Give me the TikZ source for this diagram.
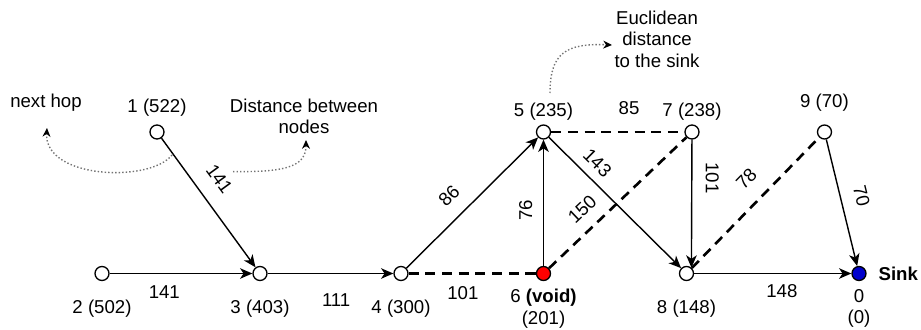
\documentclass[tikz,border=0pt]{standalone}
\usepackage{fontspec}
\setmainfont{Liberation Sans}
\usepackage{xcolor}
\usepackage{tikz}
\usetikzlibrary{arrows.meta}
\usetikzlibrary{positioning}
\definecolor{vazio}{HTML}{FF0000}
\definecolor{destino}{HTML}{0000CC}
\tikzset{
  sensor/.style={circle, draw, fill=white, line width=0.75pt, minimum size=0.28cm, inner sep=0pt},
  rotulo/.style={inner sep=0pt, align=center, font=\fontsize{10.6}{12.2}\selectfont},
  peso/.style={inner sep=0pt, sloped, font=\fontsize{10.6}{12.2}\selectfont},
  seta/.style={-{Stealth[length=7pt, width=6pt, inset=2pt]}, line width=0.8pt},
  tracejado/.style={line width=1.5pt, dash pattern=on 5.7pt off 3.8pt},
  nota/.style={-{Stealth[length=5pt, width=4.5pt, color=black]}, draw=black!55, line width=0.8pt, dash pattern=on 0.8pt off 1.2pt},
}

\begin{document}
\begin{tikzpicture}[x=0.02cm, y=0.02cm]
  \useasboundingbox (0,0) rectangle (921,329);
  % nos de cima
  \node[sensor, label={[rotulo, label distance=4.5pt]above:1 (522)}] (n1) at (157,197) {};
  \node[sensor, label={[rotulo, label distance=2.3pt]above:5 (235)}] (n5) at (543.5,197) {};
  \node[sensor, label={[rotulo, label distance=2.3pt]above:7 (238)}] (n7) at (692,197) {};
  \node[sensor, label={[rotulo, label distance=7.4pt]above:9 (70)}] (n9) at (824.5,197) {};
  % nos de baixo
  \node[sensor, label={[rotulo, label distance=10.8pt]below:2 (502)}] (n2) at (102,55.5) {};
  \node[sensor, label={[rotulo, label distance=10.8pt]below:3 (403)}] (n3) at (260,55.5) {};
  \node[sensor, label={[rotulo, label distance=10.8pt]below:4 (300)}] (n4) at (401,55.5) {};
  \node[sensor, fill=vazio, label={[rotulo, label distance=4.4pt]below:6 \textbf{(void)}\\(201)}] (n6) at (543.5,55.5) {};
  \node[sensor, label={[rotulo, label distance=10.8pt]below:8 (148)}] (n8) at (686.5,55.5) {};
  \node[sensor, fill=destino, label={[rotulo, label distance=4.4pt]below:0\\(0)}, label={[rotulo, label distance=6.6pt]right:\textbf{Sink}}] (n0) at (859,55.5) {};
  % ligacoes
  \draw[seta] (n1) -- node[peso, pos=0.42, above=8.9pt] {141} (n3);
  \draw[seta] (n2) -- node[peso, pos=0.383, below=6.5pt] {141} (n3);
  \draw[seta] (n3) -- node[peso, pos=0.545, below=11.2pt] {111} (n4);
  \draw[tracejado] (n4) -- node[peso, pos=0.426, below=6.5pt] {101} (n6);
  \draw[seta] (n4) -- node[peso, pos=0.438, above=8pt] {86} (n5);
  \draw[seta] (n6) -- node[peso, allow upside down, pos=0.441, above=6pt] {76} (n5);
  \draw[tracejado] (n6) -- node[peso, pos=0.34, above=6.7pt] {150} (n7);
  \draw[seta] (n5) -- node[peso, pos=0.282, above=4.9pt] {143} (n8);
  \draw[tracejado] (n5) -- node[peso, pos=0.585, above=9.2pt] {85} (n7);
  \draw[seta] (n7) -- node[peso, allow upside down, pos=0.30, above=7.5pt] {101} (n8.50);
  \draw[tracejado] (n8) -- node[peso, pos=0.56, above=8.8pt] {78} (n9);
  \draw[seta] (n9) -- node[peso, pos=0.484, above=7.7pt] {70} (n0);
  \draw[seta] (n8) -- node[peso, pos=0.558, below=6pt] {148} (n0);
  % notas
  \node[rotulo] (proxSalto) at (46,226.7) {next hop};
  \node[rotulo] (distNos) at (304,212.5) {Distance between\\nodes};
  \node[rotulo] (distSink) at (657,290) {Euclidean\\distance\\to the sink};
  \coordinate (a1) at (172,174);
  \coordinate (b1) at (47,201);
  \coordinate (a2) at (233,157.3);
  \coordinate (b2) at (306,189);
  \coordinate (a3) at (550,236);
  \coordinate (b3) at (612,284);
  \draw[nota] (a1) .. controls (150,146) and (44,150) .. (b1);
  \draw[nota] (a2) .. controls (280,157.3) and (306,160) .. (b2);
  \draw[nota] (a3) .. controls (550,275) and (565,286) .. (b3);
\end{tikzpicture}
\end{document}
